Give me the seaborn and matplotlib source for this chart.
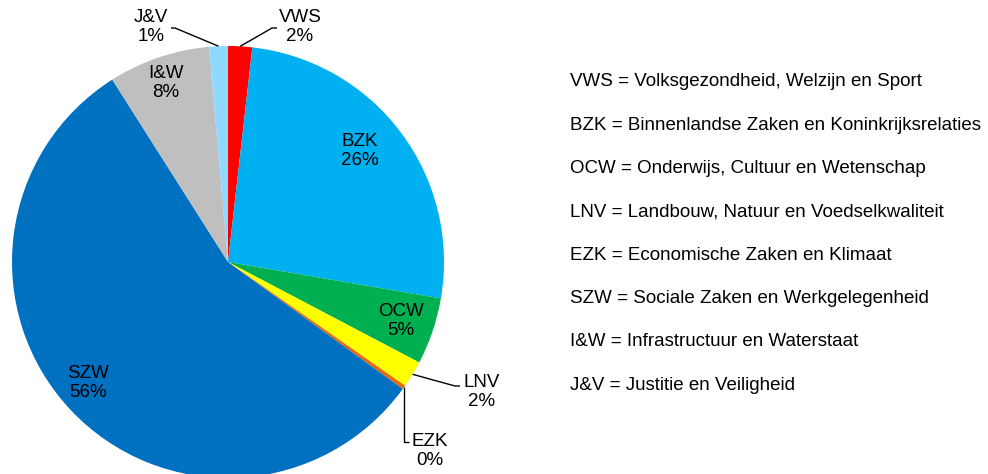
import numpy as np
import matplotlib
matplotlib.use("Agg")
import matplotlib.pyplot as plt
import seaborn as sns

# ------- DATA ---------
departments = ["VWS", "BZK", "OCW", "LNV", "EZK", "SZW", "I&W", "J&V"]
shares = [1.8, 25.9, 5.0, 2.0, 0.3, 56.0, 7.6, 1.4]
pct_labels = ["2%", "26%", "5%", "2%", "0%", "56%", "8%", "1%"]
full_names = [
    "Volksgezondheid, Welzijn en Sport",
    "Binnenlandse Zaken en Koninkrijksrelaties",
    "Onderwijs, Cultuur en Wetenschap",
    "Landbouw, Natuur en Voedselkwaliteit",
    "Economische Zaken en Klimaat",
    "Sociale Zaken en Werkgelegenheid",
    "Infrastructuur en Waterstaat",
    "Justitie en Veiligheid",
]
colors = ["#FF0000", "#00B0F0", "#00B050", "#FFFF00", "#E46C0A",
          "#0070C0", "#BFBFBF", "#8FD8FF"]

# ------- STYLE ---------
sns.set_theme(style="white")
plt.rcParams['font.family'] = ['Liberation Sans', 'DejaVu Sans']
FS = 13.5
LS = 1.15

W, H = 988, 474
fig = plt.figure(figsize=(W / 100, H / 100), dpi=100)
fig.patch.set_facecolor("white")

# pie centre (228, 262) px, radius 216 px
CX, CY, R = 228, 262, 216
ax = fig.add_axes([(CX - R) / W, (H - CY - R) / H, 2 * R / W, 2 * R / H])
wedges, _ = ax.pie(shares, colors=colors, startangle=90, counterclock=False,
                   wedgeprops=dict(linewidth=0))
ax.set_xlim(-1, 1)
ax.set_ylim(-1, 1)
ax.set_axis_off()


def px(x, y):
    """pixel position -> data coords of the pie axes"""
    return (x - CX) / R, (CY - y) / R


def anchor(w, r=1.0):
    a = np.deg2rad((w.theta1 + w.theta2) / 2)
    return r * np.cos(a), r * np.sin(a)


# labels inside the pie
inside = {"BZK": (360, 151), "OCW": (401, 321), "SZW": (88, 383), "I&W": (166, 83)}
# labels outside with leader lines: text centre, elbow, line end
outside = {
    "VWS": ((300, 27), (272, 28), (277, 28)),
    "J&V": ((151, 27), (175, 28), (171, 28)),
    "LNV": ((482, 392), (455, 386), (460, 386)),
    "EZK": ((430, 451), (404, 442), (409, 442)),
}

for i, dep in enumerate(departments):
    txt = f"{dep}\n{pct_labels[i]}"
    if dep in inside:
        ax.text(*px(*inside[dep]), txt, ha="center", va="center",
                fontsize=FS, color="black", multialignment="center",
                linespacing=LS)
    else:
        tpos, elbow, end = outside[dep]
        a = anchor(wedges[i])
        e = px(*elbow)
        n = px(*end)
        if dep == "EZK":
            e = (a[0], e[1])
        ax.plot([a[0], e[0], n[0]], [a[1], e[1], n[1]], color="black",
                lw=1, clip_on=False, solid_capstyle="butt")
        ax.text(*px(*tpos), txt, ha="center", va="center", fontsize=FS,
                color="black", multialignment="center", linespacing=LS)

# ------- LEGEND TEXT ---------
for i, dep in enumerate(departments):
    y = 82 + i * 43.3
    fig.text(570 / W, 1 - y / H, f"{dep} = {full_names[i]}", ha="left",
             va="center", fontsize=FS, color="black")

fig.savefig("out.png", dpi=100)
